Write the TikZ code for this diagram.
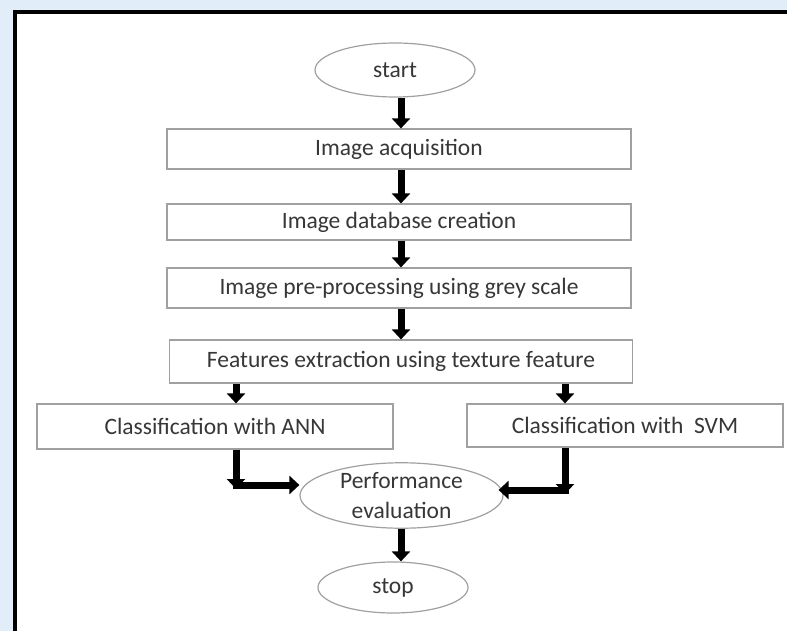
\documentclass[tikz,border=0pt]{standalone}
\usepackage{fontspec}
\setmainfont{Carlito}
\usetikzlibrary{arrows.meta,shapes.geometric,calc}
\definecolor{bordergray}{RGB}{160,160,160}
\definecolor{textgray}{RGB}{55,55,55}
\definecolor{wm}{RGB}{225,238,250}
\begin{document}
\begin{tikzpicture}[x=1pt,y=-1pt,
  stepbox/.style={draw=bordergray,line width=1.2pt,rectangle,inner sep=0pt,text=textgray,font=\fontsize{23.5}{28}\selectfont},
  term/.style={draw=bordergray,line width=1.2pt,ellipse,inner sep=0pt,text=textgray,font=\fontsize{23.5}{28}\selectfont,align=center},
  arr/.style={line width=7pt,-{Triangle[width=18pt,length=10pt]},black}]
\useasboundingbox (0,0) rectangle (787,631);
\fill[white] (0,0) rectangle (787,631);
\fill[wm] (0,0) rectangle (13,631);
\fill[wm] (0,0) rectangle (787,10);
\draw[line width=4pt,black] (15,631) -- (15,12) -- (787,12);
% nodes
\node[term,minimum width=160pt,minimum height=54pt] (start) at (395,70) {start};
\node[stepbox,minimum width=464pt,minimum height=40pt] (acq) at (399,149) {Image acquisition};
\node[stepbox,minimum width=464pt,minimum height=36pt] (db) at (399,222) {Image database creation};
\node[stepbox,minimum width=464pt,minimum height=40pt] (pre) at (399,288) {Image pre-processing using grey scale};
\node[stepbox,minimum width=463pt,minimum height=43pt] (feat) at (401,361.5) {Features extraction using texture feature};
\node[stepbox,minimum width=356pt,minimum height=45pt] (ann) at (215,426.5) {Classification with ANN};
\node[stepbox,minimum width=316pt,minimum height=43pt] (svm) at (625,425.5) {Classification with\ \ SVM};
\node[term,minimum width=203pt,minimum height=65pt] (perf) at (401.5,495.5) {Performance\\[2pt]evaluation};
\node[term,minimum width=150pt,minimum height=51pt] (stop) at (393,587.5) {stop};
% helper coordinates
\coordinate (ca) at (236,0);
\coordinate (cs) at (565,0);
\coordinate (cm) at (401,0);
\coordinate (ka) at (236,485);
\coordinate (ks) at (565,490);
% connectors
\draw[arr] (start.south -| cm) -- (acq.north -| cm);
\draw[arr] (acq.south -| cm) -- (db.north -| cm);
\draw[arr] (db.south -| cm) -- (pre.north -| cm);
\draw[arr] (pre.south -| cm) -- (feat.north -| cm);
\draw[arr] (feat.south -| ca) -- (ann.north -| ca);
\draw[arr] (feat.south -| cs) -- (svm.north -| cs);
\draw[arr] (ann.south -| ka) -- ([yshift=-4pt]ka);
\draw[arr] ([xshift=-3.5pt]ka) -- (perf.west |- ka);
\draw[arr] (svm.south -| ks) -- ([yshift=-4pt]ks);
\draw[arr] ([xshift=3.5pt]ks) -- ([xshift=-5pt]perf.east |- ks);
\draw[arr] (perf.south -| cm) -- (stop.north -| cm);
\end{tikzpicture}
\end{document}
